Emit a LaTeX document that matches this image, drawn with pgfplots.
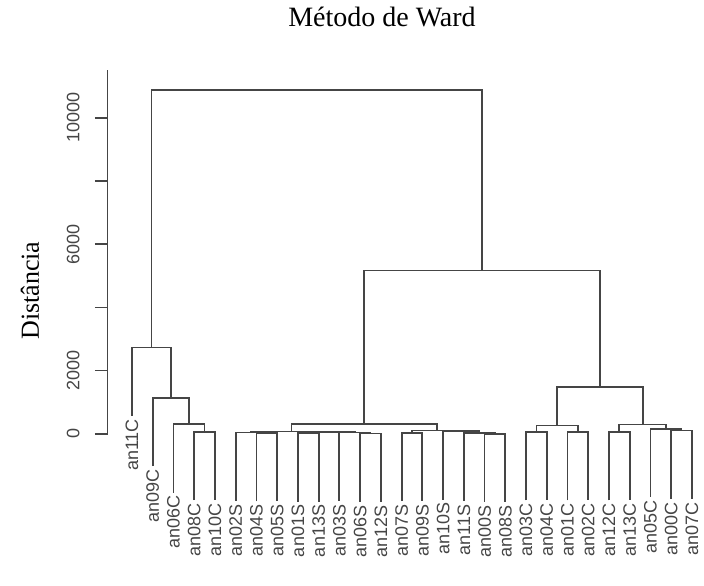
\documentclass[border=0pt]{standalone}
\usepackage{fontspec}
\setmainfont{Liberation Sans}
\newfontfamily\seriffont{Liberation Serif}
\usepackage{pgfplots}
\pgfplotsset{compat=1.18}

\definecolor{ink}{gray}{0.27}
\pgfplotsset{seg/.style={ink, line width=0.9pt, mark=none}}

\begin{document}
\begin{tikzpicture}
\begin{axis}[
  scale only axis, width=298.16pt, height=181.7pt,
  xmin=-0.1717, xmax=28.58, ymin=0, ymax=11500,
  clip=false,
  axis x line=none, axis y line*=left,
  ytick={0,2000,4000,6000,8000,10000},
  yticklabels={0,2000,,6000,,10000},
  scaled y ticks=false,
  tick align=outside, major tick length=6.35pt,
  y axis line style={ink, line width=0.8pt},
  ytick style={ink, line width=0.8pt},
  yticklabel shift=7.5pt,
  yticklabel style={rotate=90, anchor=south, inner sep=0pt,
    font=\fontsize{9}{10}\selectfont, text=ink},
  ylabel={Distância},
  ylabel style={at={(rel axis cs:-0.1303,0.394)}, anchor=center,
    font=\seriffont\fontsize{13}{15}\selectfont},
  every axis title shift=0pt,
  title={Método de Ward},
  title style={at={(rel axis cs:0.46,1.148)}, anchor=center,
    font=\seriffont\fontsize{14}{16}\selectfont},
]
% page frame
\path (axis cs:-5.3645,-4801) rectangle (axis cs:28.58,13712);

% left C cluster
\addplot[seg] coordinates {(4,-2100) (4,60) (5,60) (5,-2100)};
\addplot[seg] coordinates {(3,-1860) (3,300) (4.5,300) (4.5,60)};
\addplot[seg] coordinates {(2,-1020) (2,1140) (3.75,1140) (3.75,300)};
\addplot[seg] coordinates {(1,570) (1,2730) (2.875,2730) (2.875,1140)};
% S cluster
\addplot[seg] coordinates {(7,-2140) (7,20) (8,20) (8,-2140)};
\addplot[seg] coordinates {(6,-2120) (6,40) (7.5,40) (7.5,20)};
\addplot[seg] coordinates {(9,-2145) (9,15) (10,15) (10,-2145)};
\addplot[seg] coordinates {(12,-2150) (12,10) (13,10) (13,-2150)};
\addplot[seg] coordinates {(11,-2120) (11,40) (12.5,40) (12.5,10)};
\addplot[seg] coordinates {(9.5,15) (9.5,55) (11.75,55) (11.75,40)};
\addplot[seg] coordinates {(6.75,40) (6.75,75) (10.625,75) (10.625,55)};
\addplot[seg] coordinates {(14,-2130) (14,30) (15,30) (15,-2130)};
\addplot[seg] coordinates {(18,-2155) (18,5) (19,5) (19,-2155)};
\addplot[seg] coordinates {(17,-2135) (17,25) (18.5,25) (18.5,5)};
\addplot[seg] coordinates {(16,-2080) (16,80) (17.75,80) (17.75,25)};
\addplot[seg] coordinates {(14.5,30) (14.5,105) (16.875,105) (16.875,80)};
\addplot[seg] coordinates {(8.6875,75) (8.6875,316) (15.6875,316) (15.6875,105)};
% right C cluster
\addplot[seg] coordinates {(20,-2110) (20,50) (21,50) (21,-2110)};
\addplot[seg] coordinates {(22,-2110) (22,50) (23,50) (23,-2110)};
\addplot[seg] coordinates {(20.5,50) (20.5,263) (22.5,263) (22.5,50)};
\addplot[seg] coordinates {(24,-2110) (24,50) (25,50) (25,-2110)};
\addplot[seg] coordinates {(27,-2055) (27,105) (28,105) (28,-2055)};
\addplot[seg] coordinates {(26,-2000) (26,160) (27.5,160) (27.5,105)};
\addplot[seg] coordinates {(24.5,50) (24.5,295) (26.75,295) (26.75,160)};
\addplot[seg] coordinates {(21.5,263) (21.5,1470) (25.625,1470) (25.625,295)};
% top merges
\addplot[seg] coordinates {(12.1875,316) (12.1875,5170) (23.5625,5170) (23.5625,1470)};
\addplot[seg] coordinates {(1.9375,2730) (1.9375,10890) (17.875,10890) (17.875,5170)};

% leaf labels
\addplot[draw=none, mark=none, nodes near coords, point meta=explicit symbolic,
  nodes near coords style={rotate=90, anchor=east, inner sep=1.5pt,
    font=\fontsize{9}{10}\selectfont, text=ink}]
  table[meta=lab] {
x y lab
1 570 an11C
2 -1020 an09C
3 -1860 an06C
4 -2100 an08C
5 -2100 an10C
6 -2120 an02S
7 -2140 an04S
8 -2140 an05S
9 -2145 an01S
10 -2145 an13S
11 -2120 an03S
12 -2150 an06S
13 -2150 an12S
14 -2130 an07S
15 -2130 an09S
16 -2080 an10S
17 -2135 an11S
18 -2155 an00S
19 -2155 an08S
20 -2110 an03C
21 -2110 an04C
22 -2110 an01C
23 -2110 an02C
24 -2110 an12C
25 -2110 an13C
26 -2000 an05C
27 -2055 an00C
28 -2055 an07C
};
\end{axis}
\end{tikzpicture}
\end{document}
